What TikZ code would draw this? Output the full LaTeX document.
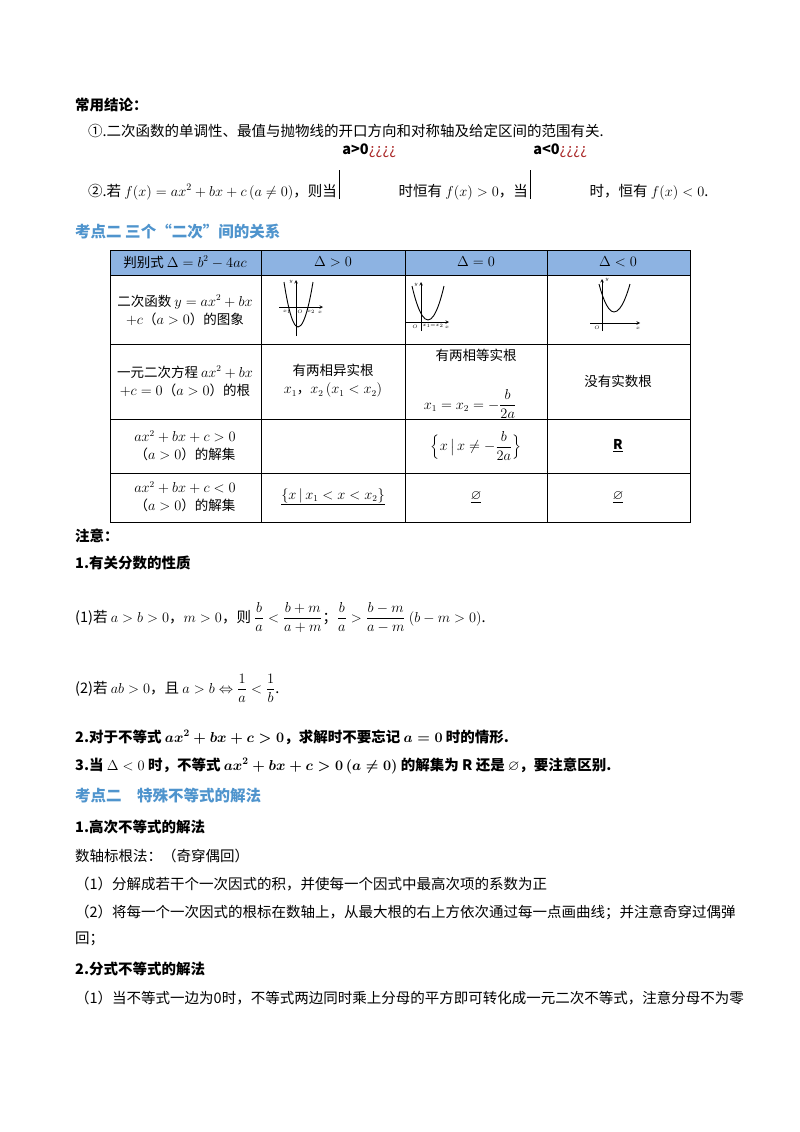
\documentclass[tikz,border=0pt]{standalone}
\usepackage{amsmath,amssymb}
\usepackage{fontspec}
\setmainfont{Noto Sans CJK SC}
\definecolor{hdr}{RGB}{141,179,226}
\definecolor{kblue}{RGB}{79,148,205}
\definecolor{dred}{RGB}{170,40,40}
\begin{document}
\begin{tikzpicture}[x=1pt,y=-1pt,
  txt/.style={anchor=base west,inner sep=0pt,font=\fontsize{14.5}{16}\selectfont},
  bold/.style={txt,font=\fontsize{14.5}{16}\selectfont\bfseries},
  head/.style={txt,font=\fontsize{15.5}{17}\selectfont\bfseries,text=kblue},
  cell/.style={align=center,inner sep=0pt,font=\fontsize{13.5}{18}\selectfont},
  ax/.style={-stealth,line width=0.6pt},
  par/.style={line width=0.9pt}]
\useasboundingbox (0,0) rectangle (800,1132);
\fill[white] (0,0) rectangle (800,1132);

\node[bold] (t1) at (75,110) {常用结论：};
\node[txt] (t2) at (88,136) {①.二次函数的单调性、最值与抛物线的开口方向和对称轴及给定区间的范围有关.};
\node[txt] (t3) at (88,196) {②.若 $f(x)=ax^2+bx+c\,(a\neq0)$，则当};
\draw[line width=0.4pt] ([xshift=2pt,yshift=-3pt]t3.base east) -- ++(0,-29) coordinate (b1);
\node[txt] (g1) at ([xshift=3pt,yshift=16pt]b1) {\textbf{a>0}\textcolor{dred}{¿¿¿¿}};
\node[txt] (t4) at ([xshift=2pt]g1.base east |- t3.base) {时恒有 $f(x)>0$，当};
\draw[line width=0.4pt] ([xshift=2pt,yshift=-3pt]t4.base east) -- ++(0,-29) coordinate (b2);
\node[txt] (g2) at ([xshift=3pt,yshift=16pt]b2) {\textbf{a<0}\textcolor{dred}{¿¿¿¿}};
\node[txt] (t5) at ([xshift=2pt]g2.base east |- t3.base) {时，恒有 $f(x)<0$.};

\node[head] (h1) at (75,237) {考点二 三个“二次”间的关系};

% table
\fill[hdr] (110,250) rectangle (690,275);
\draw[line width=0.8pt] (110,250) rectangle (690,522);
\foreach \yy in {275,344,419,473} \draw[line width=0.6pt] (110,\yy) -- (690,\yy);
\foreach \xx in {261,405,547} \draw[line width=0.6pt] (\xx,250) -- (\xx,522);

\node[cell] (h11) at (185,262) {判别式 $\Delta=b^2-4ac$};
\node[cell] (h12) at (333,262) {$\Delta>0$};
\node[cell] (h13) at (476,262) {$\Delta=0$};
\node[cell] (h14) at (618,262) {$\Delta<0$};

\node[cell] (r1) at (185,310) {二次函数 $y=ax^2+bx$\\$+c$（$a>0$）的图象};
\node[cell] (r2) at (185,381) {一元二次方程 $ax^2+bx$\\$+c=0$（$a>0$）的根};
\node[cell] (r3) at (185,446) {$ax^2+bx+c>0$\\（$a>0$）的解集};
\node[cell] (r4) at (185,497) {$ax^2+bx+c<0$\\（$a>0$）的解集};

% graph 1
\draw[ax] (296,336) -- (296,280);
\draw[ax] (279,307) -- (323,307);
\draw[par] (284,282) parabola bend (298,327) (313,282);
\node[font=\tiny,inner sep=0pt] (y1) at (291,282) {$y$};
\node[font=\tiny,inner sep=0pt] (o1) at (300,312) {$O$};
\node[font=\tiny,inner sep=0pt] (xa) at (287,312) {$x_1$};
\node[font=\tiny,inner sep=0pt] (xb) at (311,312) {$x_2$};
\node[font=\tiny,inner sep=0pt] (xx1) at (320,312) {$x$};
% graph 2
\draw[ax] (421,331) -- (421,282);
\draw[ax] (405,322) -- (449,322);
\draw[par] (412,286) parabola bend (428,320) (444,286);
\node[font=\tiny,inner sep=0pt] (y2) at (416,285) {$y$};
\node[font=\tiny,inner sep=0pt] (o2) at (415,327) {$O$};
\node[font=\tiny,inner sep=0pt] (x12) at (433,326) {$x_1{=}x_2$};
\node[font=\tiny,inner sep=0pt] (xx2) at (447,327) {$x$};
% graph 3
\draw[ax] (602,331) -- (602,279);
\draw[ax] (590,323) -- (640,323);
\draw[par] (599,284) parabola bend (614,312) (630,284);
\node[font=\tiny,inner sep=0pt] (y3) at (607,280) {$y$};
\node[font=\tiny,inner sep=0pt] (o3) at (597,328) {$O$};
\node[font=\tiny,inner sep=0pt] (xx3) at (638,328) {$x$};

\node[cell] (c22) at (333,381) {有两相异实根\\$x_1$，$x_2\,(x_1<x_2)$};
\node[cell] (c23a) at (476,355) {有两相等实根};
\node[cell,anchor=base] (c23b) at (470,409) {$x_1=x_2=-\dfrac{b}{2a}$};
\node[cell] (c24) at (618,381) {没有实数根};
\node[cell] (c33) at (476,446) {$\Bigl\{x\,\big|\,x\neq-\dfrac{b}{2a}\Bigr\}$};
\node[cell] (c34) at (618,446) {$\underline{\mathbf{R}}$};
\node[cell] (c42) at (333,497) {$\underline{\{x\,|\,x_1<x<x_2\}}$};
\node[cell] (c43) at (476,497) {$\underline{\varnothing}$};
\node[cell] (c44) at (618,497) {$\underline{\varnothing}$};

\node[bold] (n0) at (75,541) {注意：};
\node[bold] (n1) at (75,568) {1.有关分数的性质};
\node[txt] (n2) at (75,622) {(1)若 $a>b>0$，$m>0$，则 $\dfrac{b}{a}<\dfrac{b+m}{a+m}$；$\dfrac{b}{a}>\dfrac{b-m}{a-m}$ $(b-m>0)$.};
\node[txt] (n3) at (75,693) {(2)若 $ab>0$，且 $a>b\Leftrightarrow\dfrac{1}{a}<\dfrac{1}{b}$.};
\node[bold] (n4) at (75,742) {2.对于不等式 $\boldsymbol{ax^2+bx+c>0}$，求解时不要忘记 $\boldsymbol{a=0}$ 时的情形.};
\node[bold] (n5) at (75,770) {3.当 $\Delta<0$ 时，不等式 $\boldsymbol{ax^2+bx+c>0\,(a\neq0)}$ 的解集为 R 还是 $\varnothing$，要注意区别.};

\node[head] (h2) at (75,801) {考点二\quad 特殊不等式的解法};
\node[bold] (m1) at (75,832) {1.高次不等式的解法};
\node[txt] (m2) at (75,861) {数轴标根法：（奇穿偶回）};
\node[txt] (m3) at (75,889) {（1）分解成若干个一次因式的积，并使每一个因式中最高次项的系数为正};
\node[txt] (m4) at (75,917) {（2）将每一个一次因式的根标在数轴上，从最大根的右上方依次通过每一点画曲线；并注意奇穿过偶弹};
\node[txt] (m5) at (75,943) {回；};
\node[bold] (m6) at (75,974) {2.分式不等式的解法};
\node[txt] (m7) at (75,1003) {（1）当不等式一边为0时，不等式两边同时乘上分母的平方即可转化成一元二次不等式，注意分母不为零};
\end{tikzpicture}
\end{document}
